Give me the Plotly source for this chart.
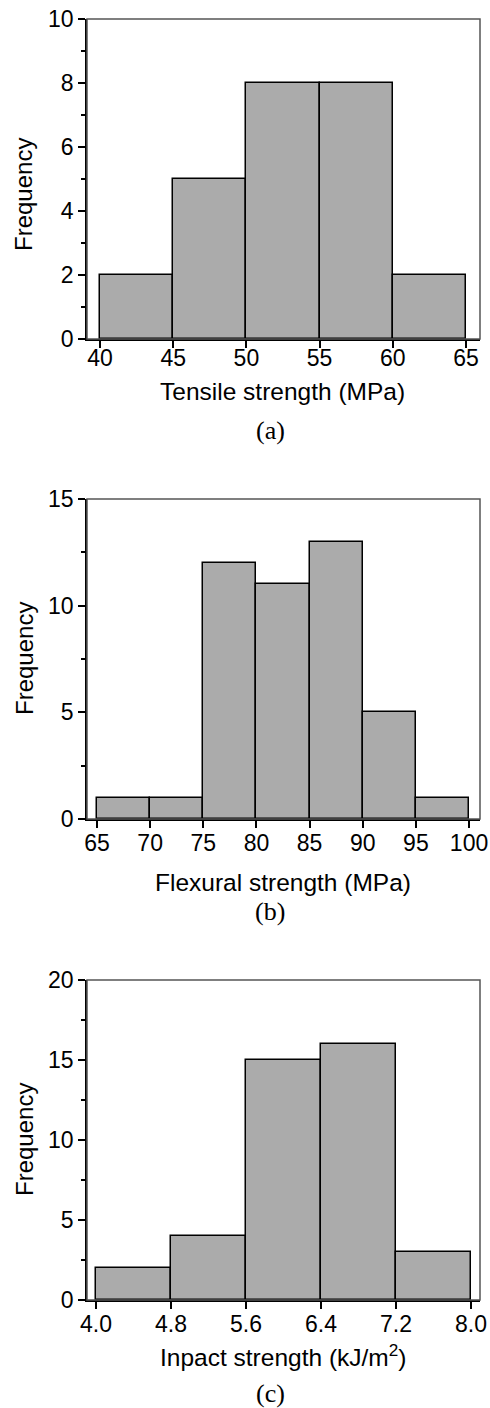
import plotly.graph_objects as go

# ---- data ----
tensile_edges = [40, 45, 50, 55, 60, 65]
tensile_counts = [2, 5, 8, 8, 2]

flexural_edges = [65, 70, 75, 80, 85, 90, 95, 100]
flexural_counts = [1, 1, 12, 11, 13, 5, 1]

impact_edges = [4.0, 4.8, 5.6, 6.4, 7.2, 8.0]
impact_counts = [2, 4, 15, 16, 3]

x_titles = ["Tensile strength (MPa)", "Flexural strength (MPa)", "Inpact strength (kJ/m<sup>2</sup>)"]
captions = ["(a)", "(b)", "(c)"]
y_title = "Frequency"

# ---- layout geometry ----
W, H = 490, 1408
x_dom = [87 / W, 480 / W]
panels_px = [(19, 339), (499, 819), (980, 1300)]
x_ranges = [[39.11, 65.96], [64.06, 101.03], [3.904, 8.096]]
y_ranges = [[0, 10], [0, 15], [0, 20]]
y_dticks = [2, 5, 5]
y_minor = [1, 2.5, 2.5]
title_px = [392, 882, 1355]
caption_px = [430, 911, 1393]
ytitle_px = [195, 659, 1140]
xlabel_shift = [-9, -4, -4]

datasets = [(tensile_edges, tensile_counts),
            (flexural_edges, flexural_counts),
            (impact_edges, impact_counts)]

fig = go.Figure()
SANS = "Liberation Sans, Arial, sans-serif"
SERIF = "Liberation Serif, Times New Roman, serif"

for i, (edges, counts) in enumerate(datasets):
    xa = "x" if i == 0 else f"x{i+1}"
    ya = "y" if i == 0 else f"y{i+1}"
    lefts = edges[:-1]
    widths = [edges[k + 1] - edges[k] for k in range(len(counts))]
    fig.add_trace(go.Bar(
        x=lefts, y=counts, width=widths, offset=0,
        marker=dict(color="#ababab", line=dict(color="black", width=1.5)),
        xaxis=xa, yaxis=ya, showlegend=False, hoverinfo="x+y",
    ))
    top, bot = panels_px[i]
    ydom = [1 - bot / H, 1 - top / H]
    if edges is impact_edges:
        ticktext = [f"{v:.1f}" for v in edges]
    else:
        ticktext = [str(v) for v in edges]
    key_x = "xaxis" if i == 0 else f"xaxis{i+1}"
    key_y = "yaxis" if i == 0 else f"yaxis{i+1}"
    fig.update_layout(**{
        key_x: dict(
            domain=x_dom, anchor=ya, range=x_ranges[i], automargin=False,
            tickmode="array", tickvals=edges, ticktext=ticktext,
            ticks="outside", ticklen=7, tickwidth=1.5, tickcolor="black",
            ticklabelstandoff=xlabel_shift[i],
            showline=True, linecolor="black", linewidth=1.5,
            showgrid=False, zeroline=False,
            tickfont=dict(family=SANS, size=23, color="black"),
        ),
        key_y: dict(
            domain=ydom, anchor=xa, range=y_ranges[i], automargin=False,
            dtick=y_dticks[i], tick0=0,
            ticks="outside", ticklen=7, tickwidth=1.5, tickcolor="black",
            minor=dict(dtick=y_minor[i], tick0=0, ticks="outside", ticklen=4,
                       tickwidth=1.5, tickcolor="black", showgrid=False),
            showline=True, linecolor="black", linewidth=1.5,
            showgrid=False, zeroline=False,
            tickfont=dict(family=SANS, size=23, color="black"),
        ),
    })
    # frame top/right
    fig.add_shape(type="rect", xref=f"{xa} domain", yref=f"{ya} domain",
                  x0=0, x1=1, y0=0, y1=1,
                  line=dict(color="#555555", width=1.5), layer="above")
    # y title
    fig.add_annotation(text=y_title, xref="paper", yref="paper",
                       x=24 / W, y=1 - ytitle_px[i] / H, textangle=-90,
                       showarrow=False, xanchor="center", yanchor="middle",
                       font=dict(family=SANS, size=24, color="black"))
    # x title
    fig.add_annotation(text=x_titles[i], xref="paper", yref="paper",
                       x=(87 + 480) / 2 / W - 1 / W, y=1 - title_px[i] / H,
                       showarrow=False, xanchor="center", yanchor="middle",
                       font=dict(family=SANS, size=24.5, color="black"))
    # caption
    fig.add_annotation(text=captions[i], xref="paper", yref="paper",
                       x=270 / W, y=1 - caption_px[i] / H,
                       showarrow=False, xanchor="center", yanchor="middle",
                       font=dict(family=SERIF, size=26, color="black"))

fig.update_layout(width=W, height=H, margin=dict(l=0, r=0, t=0, b=0, autoexpand=False),
                  paper_bgcolor="white", plot_bgcolor="white", bargap=0)

fig.write_html("out.html",
               config={"displayModeBar": False},
               post_script="document.body.style.margin='0';document.body.style.overflow='hidden';")
